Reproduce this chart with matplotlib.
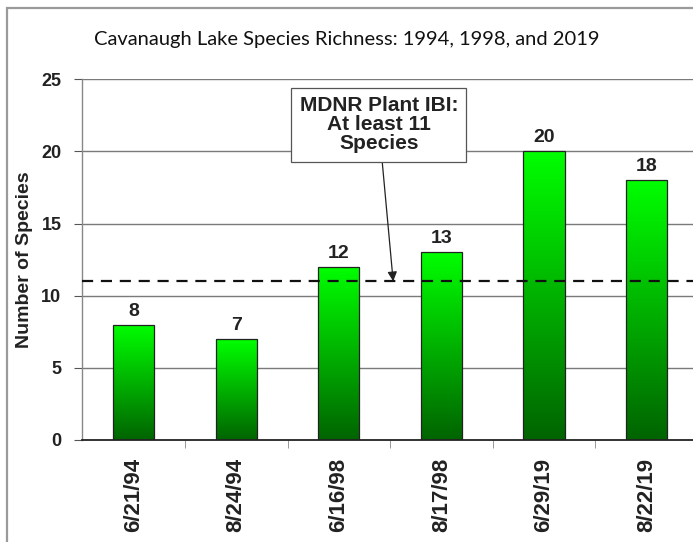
import numpy as np
import matplotlib
matplotlib.use("Agg")
import matplotlib.pyplot as plt
from matplotlib.patches import Rectangle
from matplotlib.colors import LinearSegmentedColormap

dates = ["6/21/94", "8/24/94", "6/16/98", "8/17/98", "6/29/19", "8/22/19"]
species = [8, 7, 12, 13, 20, 18]
ibi_threshold = 11
yticks = [0, 5, 10, 15, 20, 25]
title = "Cavanaugh Lake Species Richness: 1994, 1998, and 2019"
ylabel = "Number of Species"
note = "MDNR Plant IBI:\nAt least 11\nSpecies"

plt.rcParams['font.family'] = ['Liberation Sans', 'DejaVu Sans']

fig = plt.figure(figsize=(6.93, 5.42), dpi=100)
W, H = 693, 542
ax = fig.add_axes([82.3 / W, 102 / H, 615.6 / W, 360.7 / H])

# outer border (left/top visible)
fig.patches.append(Rectangle((6.5 / W, -0.1), 1.2, 1 - 7.5 / H + 0.1,
                             transform=fig.transFigure, fill=False,
                             edgecolor='#9a9a9a', lw=1.6, zorder=0))

x = np.arange(len(dates))
bw = 0.40

# gridlines
for yv in yticks[1:]:
    ax.axhline(yv, color='#7a7a7a', lw=1.0, zorder=1)

# gradient bars
grad = np.linspace(0, 1, 256).reshape(-1, 1)
cmap = LinearSegmentedColormap.from_list('g', ['#006400', '#00ff00'])
bars = ax.bar(x, species, width=bw, facecolor='none', edgecolor='#222222',
              lw=0.9, zorder=4)
for b, v in zip(bars, species):
    x0 = b.get_x()
    im = ax.imshow(grad, cmap=cmap, origin='lower', aspect='auto',
                   extent=[x0, x0 + bw, 0, v], zorder=3)
    im.set_clip_path(b)
    ax.text(b.get_x() + bw / 2, v + 0.35, str(v), ha='center', va='bottom',
            fontsize=14, fontweight='bold', color='#222222', zorder=6)

ax.set_xlim(-0.5, 5.5)
ax.set_ylim(0, 25)

# threshold line
ax.axhline(ibi_threshold, color='#111111', lw=1.6, ls=(0, (5, 3.5)), zorder=5)

# annotation
ax.annotate(note, xy=(2.53, ibi_threshold), xytext=(2.39, 21.85),
            ha='center', va='center', fontsize=15, fontweight='bold',
            color='#222222', linespacing=1.0,
            bbox=dict(boxstyle='square,pad=0.4', fc='white', ec='#555555', lw=0.9),
            arrowprops=dict(arrowstyle='-|>', color='#222222', lw=0.9,
                            mutation_scale=14, shrinkA=0, shrinkB=0),
            zorder=7)

# spines
for s in ['top', 'right']:
    ax.spines[s].set_visible(False)
ax.spines['left'].set_color('#888888')
ax.spines['left'].set_linewidth(1.0)
ax.spines['bottom'].set_color('#222222')
ax.spines['bottom'].set_linewidth(1.3)
ax.spines['bottom'].set_zorder(8)

ax.set_yticks(yticks)
ax.set_yticklabels([str(t) for t in yticks], fontsize=13, fontweight='bold',
                   color='#222222')
ax.tick_params(axis='y', direction='out', length=6, color='#555555', pad=9)

ax.set_xticks(x)
ax.set_xticklabels(dates, rotation=90, fontsize=16, fontweight='bold',
                   color='#222222')
ax.tick_params(axis='x', which='major', length=0, pad=13)
ax.set_xticks(x[:-1] + 0.5, minor=True)
ax.tick_params(axis='x', which='minor', direction='out', length=6,
               color='#888888')

ax.set_ylabel(ylabel, fontsize=14, fontweight='bold', color='#222222')
ax.yaxis.set_label_coords((33 - 82.3) / 615.6, 0.5)

fig.text(347 / W, 1 - 40 / H, title, ha='center', va='center',
         fontsize=14.5, family=['Lato', 'DejaVu Sans'], color='#111111')

fig.savefig('out.png', dpi=100)
